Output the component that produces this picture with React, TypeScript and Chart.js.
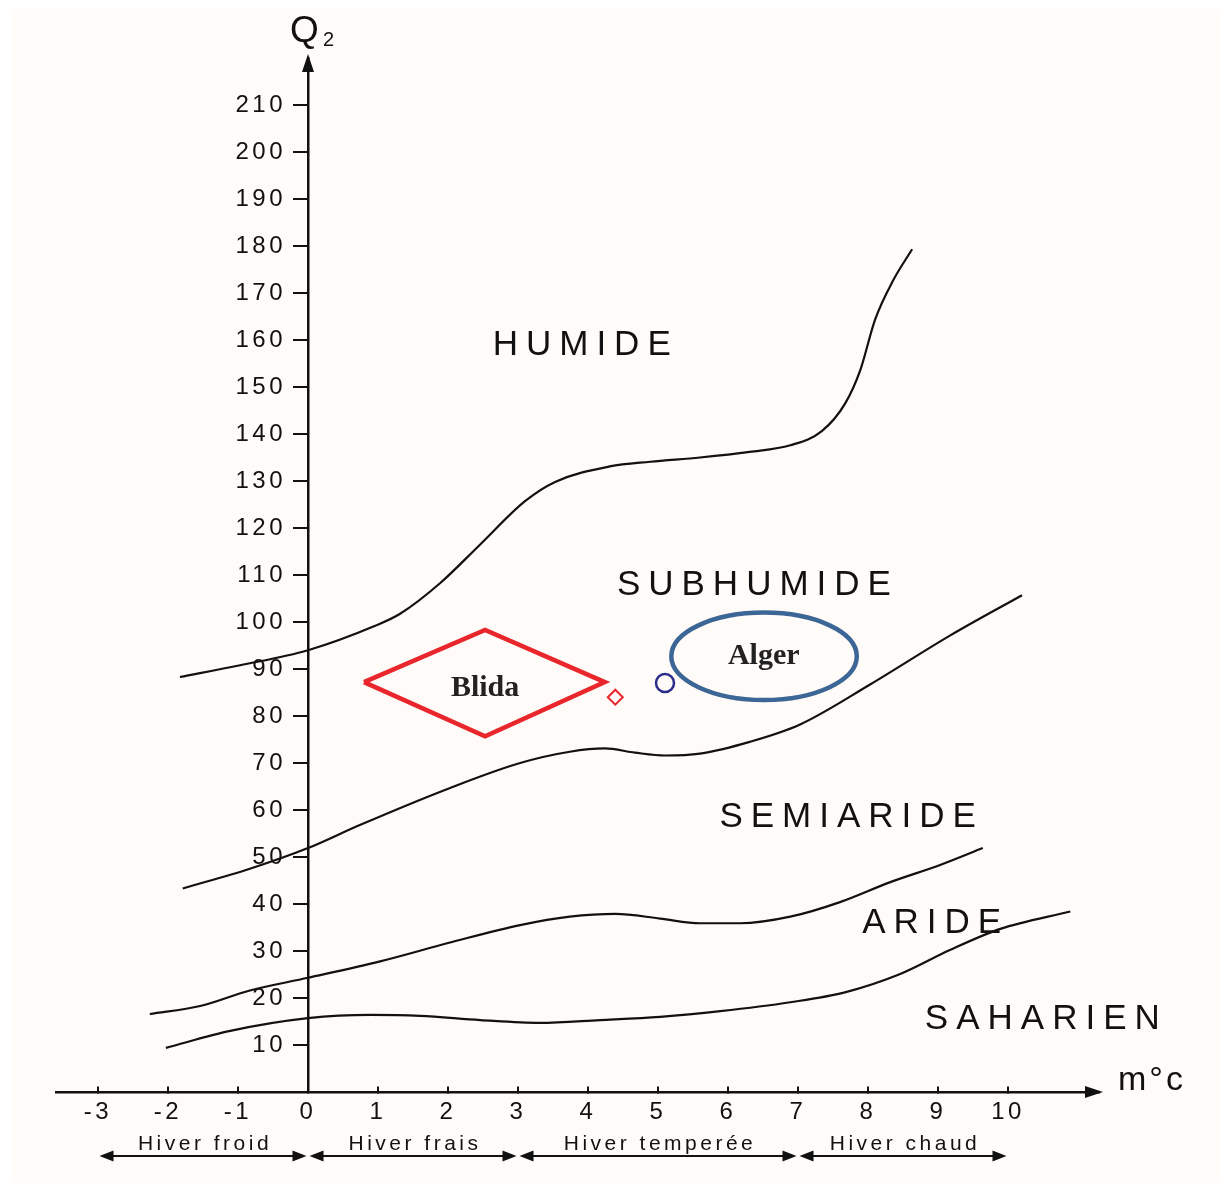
import { useEffect, useRef } from "react";
import { Chart, registerables } from "chart.js";

Chart.register(...registerables);

// Axis ticks: m (°C) and Q2
const xTicks = [-3, -2, -1, 0, 1, 2, 3, 4, 5, 6, 7, 8, 9, 10];
const yTicks = [10, 20, 30, 40, 50, 60, 70, 80, 90, 100, 110, 120, 130, 140, 150, 160, 170, 180, 190, 200, 210];

// Humide / subhumide limit
const humideM = [-1.83, -0.97, 0, 0.96, 1.31, 1.89, 2.46, 3.1, 3.53, 4.31, 4.89, 5.6, 6.31, 6.89, 7.34, 7.67, 7.89, 8.1, 8.36, 8.63];
const humideQ2 = [88.3, 90.8, 94, 99.2, 101.7, 108.3, 116.5, 125.7, 129.8, 133.1, 134.1, 135, 136.2, 137.6, 140.6, 146.4, 153.6, 164.3, 172.7, 179.3];

// Subhumide / semiaride limit
const subhumideM = [-1.79, -0.83, 0, 0.74, 2.03, 3.03, 3.74, 4.24, 4.67, 5.1, 5.6, 6.31, 7.03, 8.03, 9.17, 10.2];
const subhumideQ2 = [43.3, 47.5, 51.9, 56.8, 64.7, 70, 72.4, 73.1, 72.2, 71.6, 72.0, 74.5, 78.2, 86.7, 97.1, 105.7];

// Semiaride / aride limit
const semiarideM = [-2.26, -1.54, -0.83, 0, 1.03, 2.03, 3.03, 3.74, 4.39, 5.03, 5.6, 6.17, 6.89, 7.6, 8.31, 9.03, 9.64];
const semiarideQ2 = [16.6, 18.3, 21.6, 24.3, 27.8, 31.8, 35.5, 37.3, 37.9, 36.9, 35.9, 35.9, 37.3, 40.4, 44.6, 48.3, 51.9];

// Aride / saharien limit
const arideM = [-2.03, -1.11, 0, 0.89, 1.6, 2.46, 3.31, 4.17, 5.03, 5.89, 6.89, 7.67, 8.46, 9.17, 9.89, 10.89];
const arideQ2 = [9.4, 13.0, 15.7, 16.4, 16.2, 15.3, 14.7, 15.3, 16.0, 17.2, 19.1, 21.2, 25.1, 30.2, 34.7, 38.4];

// Stations
const stationNames = ["Blida", "Alger"];
const stationM = [4.39, 5.1];
const stationQ2 = [84.0, 87.0];

// Blida outline (diamond vertices)
const blidaZoneM = [0.8, 2.53, 4.24, 2.53, 0.8];
const blidaZoneQ2 = [87.2, 98.3, 87.2, 75.7, 87.2];

// Alger outline (ellipse extent)
const algerZoneM = [5.19, 7.84];
const algerZoneQ2 = [83.4, 102];

// Name tags inside the outlines
const tagM = [2.53, 6.51];
const tagQ2 = [86.0, 92.7];

// Bioclimatic stages
const stageNames = ["HUMIDE", "SUBHUMIDE", "SEMIARIDE", "ARIDE", "SAHARIEN"];
const stageM = [3.91, 6.37, 7.71, 8.91, 10.49];
const stageQ2 = [158.9, 107.8, 58.5, 35.9, 15.5];

// Winter variants along m
const winterNames = ["Hiver froid", "Hiver frais", "Hiver temperée", "Hiver chaud"];
const winterBounds = [-3, 0, 3, 7, 10];

const INK = "#111111";
const RED = "#e8262b";
const SANS = '"Liberation Sans", Arial, sans-serif';
const SERIF = '"Liberation Serif", "Times New Roman", serif';

const pts = (xs: number[], ys: number[]) => xs.map((x, i) => ({ x, y: ys[i] }));

const backgroundPlugin = {
  id: "paper",
  beforeDraw(chart: any) {
    const ctx = chart.ctx;
    ctx.save();
    ctx.fillStyle = "#ffffff";
    ctx.fillRect(0, 0, chart.width, chart.height);
    ctx.fillStyle = "#fffbf8";
    ctx.fillRect(12, 9, chart.width - 12, chart.height - 9);
    ctx.restore();

    // Q2 labels sit left of their tick marks (an axis placed at m = 0 puts them on the line)
    const ys = chart.scales.y;
    const items = ys.getLabelItems(chart.chartArea);
    items.forEach((item: any) => {
      if (!item.$moved) {
        item.options.translation[0] -= 22;
        item.$moved = true;
      }
    });

    // wide tracking for the axis numbers
    ctx.letterSpacing = "3.5px";
  },
  beforeDatasetsDraw(chart: any) {
    chart.ctx.letterSpacing = "0px";
  },
};

const overlayPlugin = {
  id: "overlay",
  afterDraw(chart: any) {
    const ctx = chart.ctx;
    const xs = chart.scales.x;
    const ys = chart.scales.y;
    const area = chart.chartArea;
    const X = (v: number) => xs.getPixelForValue(v);
    const Y = (v: number) => ys.getPixelForValue(v);
    const x0 = X(0);
    const y0 = Y(0);

    ctx.save();
    ctx.fillStyle = INK;
    ctx.strokeStyle = INK;

    // arrowheads of the axes
    ctx.beginPath();
    ctx.moveTo(x0, area.top - 4);
    ctx.lineTo(x0 - 6, area.top + 14);
    ctx.lineTo(x0 + 6, area.top + 14);
    ctx.closePath();
    ctx.fill();
    ctx.beginPath();
    ctx.moveTo(area.right + 4, y0);
    ctx.lineTo(area.right - 14, y0 - 6);
    ctx.lineTo(area.right - 14, y0 + 6);
    ctx.closePath();
    ctx.fill();

    // axis titles
    ctx.textAlign = "left";
    ctx.textBaseline = "alphabetic";
    ctx.letterSpacing = "0px";
    ctx.font = `37px ${SANS}`;
    ctx.fillText("Q", x0 - 18, area.top - 16);
    ctx.font = `20px ${SANS}`;
    ctx.fillText("2", x0 + 15, area.top - 12);
    ctx.letterSpacing = "3px";
    ctx.font = `34px ${SANS}`;
    ctx.fillText("m°c", area.right + 19, y0 - 2);

    // stage names
    ctx.textAlign = "center";
    ctx.textBaseline = "middle";
    ctx.letterSpacing = "8px";
    ctx.font = `35px ${SANS}`;
    stageNames.forEach((name, i) => {
      ctx.fillText(name, X(stageM[i]) + 4, Y(stageQ2[i]));
    });

    // Alger outline
    ctx.beginPath();
    ctx.strokeStyle = "#3b6695";
    ctx.lineWidth = 4.5;
    const cx = (X(algerZoneM[0]) + X(algerZoneM[1])) / 2;
    const cy = (Y(algerZoneQ2[0]) + Y(algerZoneQ2[1])) / 2;
    const rx = Math.abs(X(algerZoneM[1]) - X(algerZoneM[0])) / 2;
    const ry = Math.abs(Y(algerZoneQ2[1]) - Y(algerZoneQ2[0])) / 2;
    ctx.ellipse(cx, cy, rx, ry, 0, 0, Math.PI * 2);
    ctx.stroke();

    // station names
    ctx.letterSpacing = "0px";
    ctx.fillStyle = "#222";
    ctx.font = `bold 30px ${SERIF}`;
    stationNames.forEach((name, i) => {
      ctx.fillText(name, X(tagM[i]), Y(tagQ2[i]));
    });

    // winter variants with double arrows
    ctx.fillStyle = INK;
    ctx.strokeStyle = INK;
    ctx.lineWidth = 2;
    const ya = area.bottom + 64;
    const head = (tip: number, dir: number) => {
      ctx.beginPath();
      ctx.moveTo(tip, ya);
      ctx.lineTo(tip - dir * 14, ya - 5.5);
      ctx.lineTo(tip - dir * 14, ya + 5.5);
      ctx.closePath();
      ctx.fill();
    };
    ctx.font = `21px ${SANS}`;
    ctx.letterSpacing = "3.5px";
    ctx.textBaseline = "alphabetic";
    winterNames.forEach((name, i) => {
      const xa = X(winterBounds[i]) + 1.5;
      const xb = X(winterBounds[i + 1]) - 1.5;
      ctx.beginPath();
      ctx.moveTo(xa + 4, ya);
      ctx.lineTo(xb - 4, ya);
      ctx.stroke();
      head(xa, -1);
      head(xb, 1);
      ctx.fillText(name, (xa + xb) / 2 + 2, ya - 6);
    });
    ctx.restore();
  },
};

export default function App() {
  const canvasRef = useRef<HTMLCanvasElement | null>(null);

  useEffect(() => {
    const canvas = canvasRef.current;
    if (!canvas) return;

    const curveStyle = {
      showLine: true,
      borderColor: INK,
      borderWidth: 2.2,
      pointRadius: 0,
      fill: false,
      cubicInterpolationMode: "monotone" as const,
    };

    const chart = new Chart(canvas, {
      type: "scatter",
      data: {
        datasets: [
          { ...curveStyle, data: pts(humideM, humideQ2) },
          { ...curveStyle, data: pts(subhumideM, subhumideQ2) },
          { ...curveStyle, data: pts(semiarideM, semiarideQ2) },
          { ...curveStyle, data: pts(arideM, arideQ2) },
          {
            data: pts(blidaZoneM, blidaZoneQ2),
            showLine: true,
            borderColor: RED,
            borderWidth: 4.5,
            borderJoinStyle: "miter",
            pointRadius: 0,
            tension: 0,
          },
          {
            data: [{ x: stationM[0], y: stationQ2[0] }],
            pointStyle: "rectRot",
            pointRadius: 7.5,
            borderColor: RED,
            borderWidth: 2,
            backgroundColor: "rgba(0,0,0,0)",
          },
          {
            data: [{ x: stationM[1], y: stationQ2[1] }],
            pointStyle: "circle",
            pointRadius: 9,
            borderColor: "#2a2d8a",
            borderWidth: 2.5,
            backgroundColor: "rgba(0,0,0,0)",
          },
        ],
      },
      options: {
        animation: false,
        responsive: false,
        devicePixelRatio: 1,
        layout: { padding: { left: 56, right: 121, top: 58, bottom: 91 } },
        plugins: { legend: { display: false }, tooltip: { enabled: false } },
        scales: {
          x: {
            type: "linear",
            min: -3.6,
            max: 11.3,
            position: { y: 0 },
            afterFit: (scale: any) => {
              scale.height = 0;
            },
            afterBuildTicks: (axis: any) => {
              axis.ticks = xTicks.map((v) => ({ value: v }));
            },
            border: { display: true, color: INK, width: 2.5 },
            grid: { drawOnChartArea: false, drawTicks: true, tickLength: -7, color: INK, lineWidth: 2 },
            ticks: {
              color: INK,
              font: { family: SANS, size: 24 },
              padding: 13,
              autoSkip: false,
              maxRotation: 0,
            },
          },
          y: {
            type: "linear",
            min: 0,
            max: 220,
            position: { x: 0 },
            afterFit: (scale: any) => {
              scale.width = 0;
            },
            afterBuildTicks: (axis: any) => {
              axis.ticks = yTicks.map((v) => ({ value: v }));
            },
            border: { display: true, color: INK, width: 2.5 },
            grid: { drawOnChartArea: false, drawTicks: true, tickLength: 14, color: INK, lineWidth: 2 },
            ticks: {
              color: INK,
              font: { family: SANS, size: 24 },
              padding: 4,
              autoSkip: false,
            },
          },
        },
      },
      plugins: [backgroundPlugin, overlayPlugin],
    } as any);

    return () => chart.destroy();
  }, []);

  return (
    <div style={{ position: "absolute", left: 0, top: 0, width: 1220, height: 1183 }}>
      <canvas ref={canvasRef} width={1220} height={1183} style={{ display: "block", width: 1220, height: 1183 }} />
    </div>
  );
}
